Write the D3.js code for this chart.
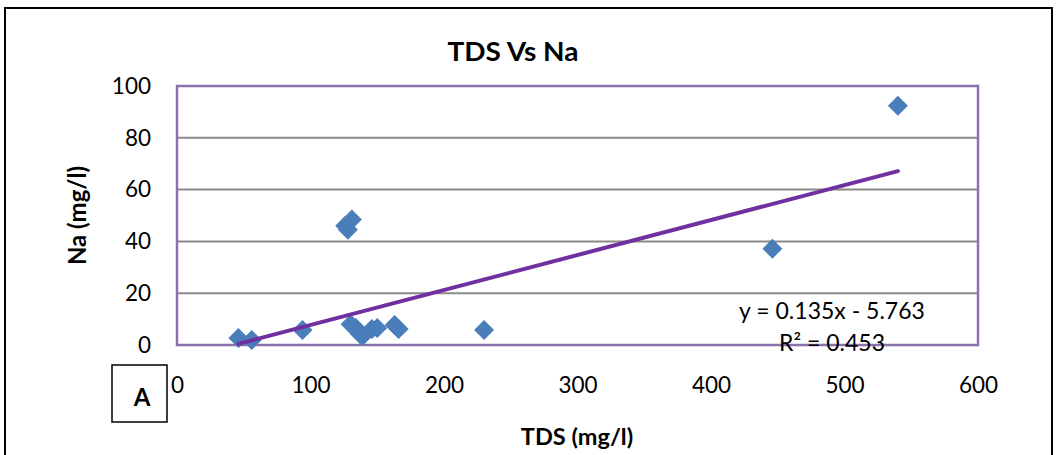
<!DOCTYPE html>
<html>
<head>
<meta charset="utf-8">
<script src="https://cdn.jsdelivr.net/npm/d3@7"></script>
<style>
  body { margin: 0; background: #fff; }
  svg { display: block; font-family: Lato, "Open Sans", sans-serif; }
</style>
</head>
<body>
<svg id="chart"></svg>
<script>
var WIDTH = 1063;
var HEIGHT = 455;

// TDS (mg/l) values
var tds = [46, 56, 94, 130, 134, 137, 139, 146, 150, 163, 166, 126, 128, 131, 230, 446, 540];
// Na (mg/l) values
var na = [2.7, 1.9, 5.8, 8.0, 6.6, 4.2, 3.5, 6.2, 6.6, 7.7, 6.2, 46.0, 44.5, 48.5, 5.8, 37.2, 92.4];

var xTicks = [0, 100, 200, 300, 400, 500, 600];
var yTicks = [0, 20, 40, 60, 80, 100];

// linear trendline reported in the chart
var slope = 0.135;
var intercept = -5.763;
var eqLabel = 'y = 0.135x - 5.763';
var r2Label = 'R\u00b2 = 0.453';

var points = tds.map(function(t, i) {
  return { x: t, y: na[i] };
});

var svg = d3.select('#chart')
  .attr('width', WIDTH)
  .attr('height', HEIGHT);

var margin = { left: 177, right: 85, top: 86, bottom: 110 };
var plotW = WIDTH - margin.left - margin.right; // 801
var plotH = HEIGHT - margin.top - margin.bottom; // 259

var xScale = d3.scaleLinear().domain([0, 600]).range([margin.left, margin.left + plotW]);
var yScale = d3.scaleLinear().domain([0, 100]).range([margin.top + plotH, margin.top]);

// outer chart border
svg.append('rect')
  .attr('x', 5)
  .attr('y', 8)
  .attr('width', 1047)
  .attr('height', 470)
  .attr('fill', 'none')
  .attr('stroke', '#000')
  .attr('stroke-width', 2);

// title
svg.append('text')
  .attr('x', 513)
  .attr('y', 61)
  .attr('text-anchor', 'middle')
  .attr('font-size', 26)
  .attr('font-weight', 'bold')
  .attr('textLength', 131)
  .attr('lengthAdjust', 'spacingAndGlyphs')
  .text('TDS Vs Na');

// gridlines
svg.append('g')
  .selectAll('line')
  .data(yTicks.filter(function(d) { return d > 0 && d < 100; }))
  .enter()
  .append('line')
  .attr('x1', margin.left)
  .attr('x2', margin.left + plotW)
  .attr('y1', function(d) { return yScale(d); })
  .attr('y2', function(d) { return yScale(d); })
  .attr('stroke', '#8a8a8a')
  .attr('stroke-width', 2);

// y axis
var leftAxis = d3.axisLeft(yScale).tickValues(yTicks).tickSize(0).tickPadding(26);
var gy = svg.append('g')
  .attr('transform', 'translate(' + margin.left + ',0)')
  .call(leftAxis);
gy.select('.domain').remove();
gy.selectAll('text')
  .attr('font-size', 22.5)
  .attr('font-family', 'Lato, sans-serif')
  .attr('fill', '#000');

// x axis
var bottomAxis = d3.axisBottom(xScale).tickValues(xTicks).tickSize(0).tickPadding(32);
var gx = svg.append('g')
  .attr('transform', 'translate(0,' + (margin.top + plotH) + ')')
  .call(bottomAxis);
gx.select('.domain').remove();
gx.selectAll('text')
  .attr('font-size', 22.5)
  .attr('font-family', 'Lato, sans-serif')
  .attr('fill', '#000');

// bottom axis line (grey) and plot border (purple)
svg.append('line')
  .attr('x1', margin.left)
  .attr('x2', margin.left + plotW)
  .attr('y1', yScale(0))
  .attr('y2', yScale(0))
  .attr('stroke', '#8a8a8a')
  .attr('stroke-width', 2);

svg.append('rect')
  .attr('x', margin.left)
  .attr('y', margin.top)
  .attr('width', plotW)
  .attr('height', plotH)
  .attr('fill', 'none')
  .attr('stroke', '#8c72ac')
  .attr('stroke-width', 2.5);

// axis titles
svg.append('text')
  .attr('transform', 'translate(86,' + (margin.top + plotH / 2) + ') rotate(-90)')
  .attr('text-anchor', 'middle')
  .attr('font-size', 24)
  .attr('font-weight', 'bold')
  .text('Na (mg/l)');

svg.append('text')
  .attr('x', 577)
  .attr('y', 445)
  .attr('text-anchor', 'middle')
  .attr('font-size', 23.5)
  .attr('font-weight', 'bold')
  .text('TDS (mg/l)');

// markers
svg.append('g')
  .selectAll('path')
  .data(points)
  .enter()
  .append('path')
  .attr('d', 'M0,-10L10,0L0,10L-10,0Z')
  .attr('transform', function(d) {
    return 'translate(' + xScale(d.x) + ',' + yScale(d.y) + ')';
  })
  .attr('fill', '#4a7ebb');

// trendline
var xExt = d3.extent(tds);
var trend = xExt.map(function(v) { return { x: v, y: slope * v + intercept }; });
svg.append('path')
  .datum(trend)
  .attr('d', d3.line()
    .x(function(d) { return xScale(d.x); })
    .y(function(d) { return yScale(d.y); }))
  .attr('fill', 'none')
  .attr('stroke', '#7030a0')
  .attr('stroke-width', 4)
  .attr('stroke-linecap', 'round');

// trendline label
svg.append('text')
  .attr('x', 832)
  .attr('y', 319)
  .attr('text-anchor', 'middle')
  .attr('font-size', 23)
  .text(eqLabel);
svg.append('text')
  .attr('x', 832)
  .attr('y', 351)
  .attr('text-anchor', 'middle')
  .attr('font-size', 23)
  .text(r2Label);

// panel label box
svg.append('rect')
  .attr('x', 112)
  .attr('y', 365)
  .attr('width', 55)
  .attr('height', 57)
  .attr('fill', '#fff')
  .attr('stroke', '#000')
  .attr('stroke-width', 1.5);
svg.append('text')
  .attr('x', 142)
  .attr('y', 406)
  .attr('text-anchor', 'middle')
  .attr('font-size', 24)
  .attr('font-weight', 'bold')
  .text('A');
</script>
</body>
</html>
